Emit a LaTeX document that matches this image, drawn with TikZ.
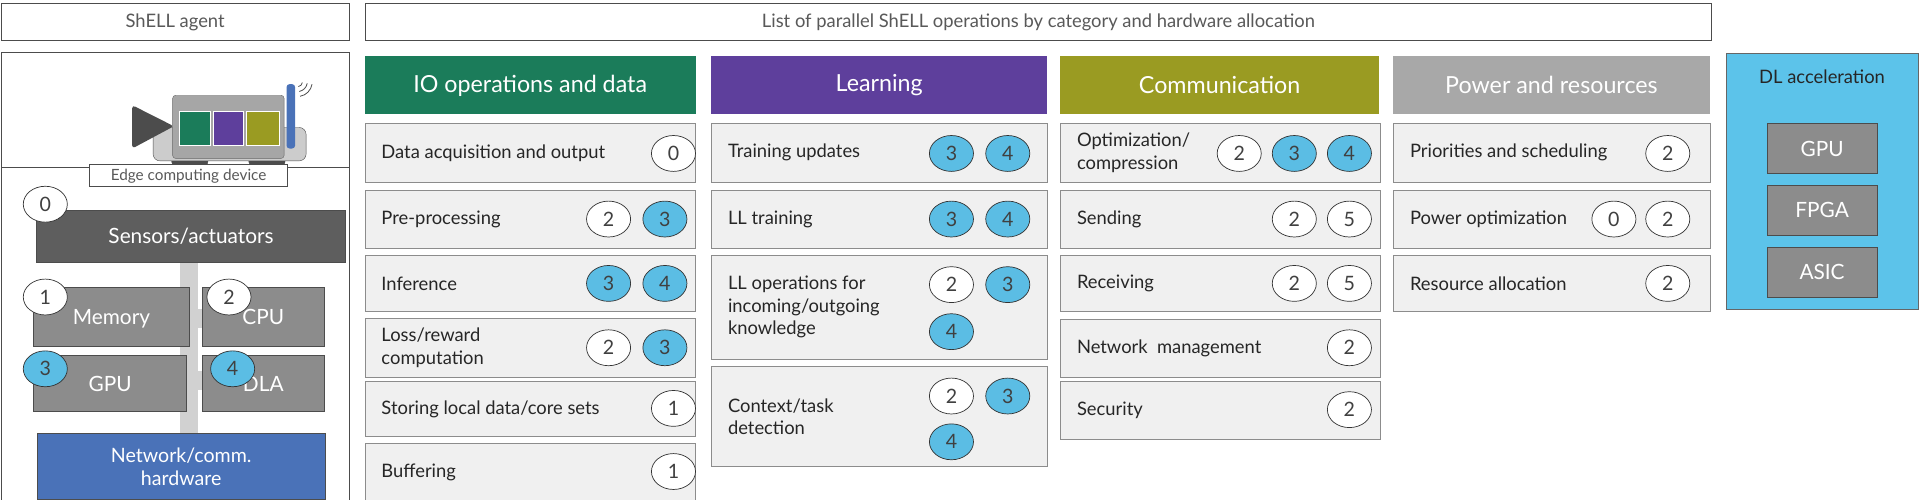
\documentclass[tikz,border=0pt]{standalone}
\usepackage{fontspec}
\usetikzlibrary{shapes.geometric}
\setmainfont{Lato}
\definecolor{cgreen}{HTML}{1B7C5A}
\definecolor{cpurple}{HTML}{5E3F9C}
\definecolor{colive}{HTML}{9A9B22}
\definecolor{cgrayh}{HTML}{A8A8A8}
\definecolor{cblue}{HTML}{5BBDE4}
\definecolor{cdl}{HTML}{5CC3EA}
\definecolor{cnet}{HTML}{4A72B8}
\definecolor{chw}{HTML}{8C8C8C}
\definecolor{csens}{HTML}{5E5E5E}
\begin{document}
\begin{tikzpicture}[x=1pt,y=-1pt,
  lbl/.style={draw=black!70,line width=0.8pt,fill=white},
  op/.style={draw=black!45,line width=0.8pt,fill=black!6},
  num/.style={ellipse,draw=black!80,line width=0.7pt,fill=white,minimum width=36pt,minimum height=29pt,inner sep=0pt,font=\fontsize{16}{16}\selectfont,text=black!75},
  bnum/.style={num,fill=cblue},
  hw/.style={draw=black!70,line width=0.8pt,text=white,font=\fontsize{17}{17}\selectfont},
  txt/.style={anchor=west,align=left,font=\fontsize{15}{18}\selectfont,text=black!85},
  hdr/.style={font=\fontsize{19}{19}\selectfont,text=white}]
\useasboundingbox (0,0) rectangle (1920,500);
\begin{scope}[xscale=1.2245,yscale=1.2376,transform shape]
% titles
\draw[lbl] (1,3) rectangle (285,33); \node[font=\fontsize{15}{15}\selectfont,text=black!65] (t1) at (143,18) {ShELL agent};
\draw[lbl] (298,3) rectangle (1398,33); \node[font=\fontsize{15}{15}\selectfont,text=black!65] (t2) at (848,18) {List of parallel ShELL operations by category and hardware allocation};
% left panel
\draw[draw=black!70,line width=0.8pt] (1,42) rectangle (285,405);
\draw[draw=black!70,line width=0.8pt] (1,135) -- (285,135);
% robot
\fill[black!70,draw=black!70] (155,128) circle (15); \fill[black!70,draw=black!70] (218,128) circle (15);
\fill[black!20,draw=black!70,rounded corners=7pt] (125,103) rectangle (250,130);
\fill[black!70,rounded corners=3pt] (108,85) -- (142,102) -- (108,120) -- cycle;
\fill[black!35,draw=black!60,rounded corners=3pt] (141,77) rectangle (232,128);
\fill[cgreen,draw=white] (146,90) rectangle (172,117);
\fill[cpurple,draw=white] (174,90) rectangle (199,117);
\fill[colive,draw=white] (201,90) rectangle (228,117);
\fill[cnet,rounded corners=3pt] (234,68) rectangle (241,120);
\foreach \r in {4,8,12} \draw[black!70,line width=0.8pt] (243,66) ++(10:\r) arc (10:80:\r);
\node[lbl,minimum width=162pt,minimum height=18pt,inner sep=0pt,font=\fontsize{12.5}{12.5}\selectfont,text=black!65] (edge) at (154,142) {Edge computing device};
% bus
\fill[black!18] (147,212) rectangle (162,350);
\fill[black!18] (155,250) rectangle (165,265);
\fill[black!18] (140,300) rectangle (165,315);
\node[hw,fill=csens,minimum width=252pt,minimum height=42pt] (sens) at (156,191) {Sensors/actuators};
\node[hw,fill=chw,minimum width=128pt,minimum height=47pt,text depth=-6pt] (mem) at (91,256) {Memory};
\node[hw,fill=chw,minimum width=100pt,minimum height=47pt,text depth=-6pt] (cpu) at (215,256) {CPU};
\node[hw,fill=chw,minimum width=125pt,minimum height=45pt] (gpu) at (90,310) {GPU};
\node[hw,fill=chw,minimum width=100pt,minimum height=45pt] (dla) at (215,310) {DLA};
\node[hw,fill=cnet,minimum width=235pt,minimum height=53pt,align=center,font=\fontsize{16}{19}\selectfont] (net) at (148,377) {Network/comm.\\hardware};
\node[num] (c0) at (37,165) {0};
\node[num] (c1) at (37,240) {1};
\node[num] (c2) at (187,240) {2};
\node[bnum] (c3) at (37,298) {3};
\node[bnum] (c4) at (190,298) {4};
% headers
\node[hdr,fill=cgreen,minimum width=270pt,minimum height=47pt] (h1) at (433,69) {IO operations and data};
\node[hdr,fill=cpurple,minimum width=274pt,minimum height=47pt] (h2) at (718,69) {Learning};
\node[hdr,fill=colive,minimum width=261pt,minimum height=47pt] (h3) at (996,69) {Communication};
\node[hdr,fill=cgrayh,minimum width=259pt,minimum height=47pt] (h4) at (1267,69) {Power and resources};
% DL accel
\draw[fill=cdl,draw=black!60,line width=0.8pt] (1410,43) rectangle (1567,250);
\node[font=\fontsize{15}{15}\selectfont,text=black!85] (dlt) at (1488,62) {DL acceleration};
\node[hw,fill=chw,minimum width=90pt,minimum height=40pt] (ag) at (1488,120) {GPU};
\node[hw,fill=chw,minimum width=90pt,minimum height=40pt] (af) at (1488,170) {FPGA};
\node[hw,fill=chw,minimum width=90pt,minimum height=40pt] (aa) at (1488,220) {ASIC};
% op boxes
\foreach \xa/\xb/\ya/\yb/\t [count=\i] in {
 298/568/100/147/{Data acquisition and output},
 298/568/154/201/{Pre-processing},
 298/568/206/252/{Inference},
 298/568/257/305/{Loss/reward\\computation},
 298/568/308/353/{Storing local data/core sets},
 298/568/358/405/{Buffering},
 581/855/100/147/{Training updates},
 581/855/154/201/{LL training},
 581/855/206/290/{LL operations for\\incoming/outgoing\\knowledge},
 581/855/296/377/{Context/task\\detection},
 866/1127/100/147/{Optimization/\\compression},
 866/1127/154/201/{Sending},
 866/1127/206/252/{Receiving},
 866/1127/258/305/{Network\ \ management},
 866/1127/308/355/{Security},
 1138/1397/100/147/{Priorities and scheduling},
 1138/1397/154/201/{Power optimization},
 1138/1397/206/252/{Resource allocation}}
 {\draw[op] (\xa,\ya) rectangle (\xb,\yb);
  \node[txt] (o\i) at (\xa+10,{(\ya+\yb)/2}) {\t};}
% circles
\node[num] at (550,124) {0};
\node[num] at (497,177) {2}; \node[bnum] at (543,177) {3};
\node[bnum] at (497,229) {3}; \node[bnum] at (543,229) {4};
\node[num] at (497,281) {2}; \node[bnum] at (543,281) {3};
\node[num] at (550,330) {1};
\node[num] at (550,381) {1};
\node[bnum] at (777,124) {3}; \node[bnum] at (823,124) {4};
\node[bnum] at (777,177) {3}; \node[bnum] at (823,177) {4};
\node[num] at (777,230) {2}; \node[bnum] at (823,230) {3}; \node[bnum] at (777,268) {4};
\node[num] at (777,320) {2}; \node[bnum] at (823,320) {3}; \node[bnum] at (777,357) {4};
\node[num] at (1012,124) {2}; \node[bnum] at (1057,124) {3}; \node[bnum] at (1102,124) {4};
\node[num] at (1057,177) {2}; \node[num] at (1102,177) {5};
\node[num] at (1057,229) {2}; \node[num] at (1102,229) {5};
\node[num] at (1102,281) {2};
\node[num] at (1102,331) {2};
\node[num] at (1362,124) {2};
\node[num] at (1318,177) {0}; \node[num] at (1362,177) {2};
\node[num] at (1362,229) {2};
\end{scope}
\end{tikzpicture}
\end{document}
